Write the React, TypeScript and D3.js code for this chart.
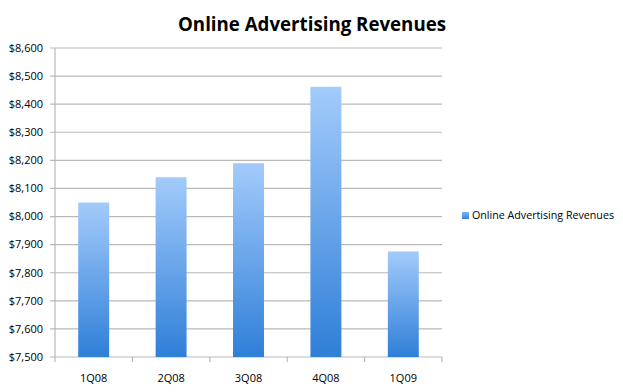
import React from "react";
import * as d3 from "d3";

const categories = ["1Q08", "2Q08", "3Q08", "4Q08", "1Q09"];
const revenues = [8050, 8140, 8190, 8462, 7876];
const yTicks = [7500, 7600, 7700, 7800, 7900, 8000, 8100, 8200, 8300, 8400, 8500, 8600];
const seriesName = "Online Advertising Revenues";
const title = "Online Advertising Revenues";

export default function App() {
  const W = 623, H = 392;
  const left = 55, right = 442, top = 48, bottom = 357;
  const x = d3.scaleBand<string>().domain(categories).range([left, right]).paddingInner(0.6).paddingOuter(0.3);
  const y = d3.scaleLinear().domain([7500, 8600]).range([bottom, top]);
  const font = "'Open Sans', 'Noto Sans', sans-serif";
  const fmt = d3.format("$,");
  const boundaries = d3.range(categories.length + 1).map((i) => left + i * x.step());

  return (
    <svg width={W} height={H} style={{ position: "absolute", left: 0, top: 0 }}>
      <defs>
        <linearGradient id="barGrad" x1="0" y1="0" x2="0" y2="1">
          <stop offset="0%" stopColor="#a3cbfb" />
          <stop offset="100%" stopColor="#2f7fd8" />
        </linearGradient>
        <linearGradient id="legGrad" x1="0" y1="0" x2="0" y2="1">
          <stop offset="0%" stopColor="#7fb2f2" />
          <stop offset="100%" stopColor="#3a86dc" />
        </linearGradient>
      </defs>
      <rect x={0} y={0} width={W} height={H} fill="#fff" />
      <text x={312} y={31} textAnchor="middle" fontFamily={font} fontWeight="bold" fontSize={20}
        textLength={268} lengthAdjust="spacingAndGlyphs" fill="#000">{title}</text>
      {yTicks.map((t) => (
        <g key={t}>
          <line x1={left - 5} x2={right} y1={y(t)} y2={y(t)} stroke="#b9b9b9" strokeWidth={1.2} />
          <text x={43} y={y(t)} dy="0.35em" textAnchor="end" fontFamily={font} fontSize={11} fill="#000">{fmt(t)}</text>
        </g>
      ))}
      <line x1={left} x2={left} y1={top} y2={bottom} stroke="#b9b9b9" strokeWidth={1.2} />
      {boundaries.map((bx, i) => (
        <line key={i} x1={bx} x2={bx} y1={bottom} y2={bottom + 5} stroke="#b9b9b9" strokeWidth={1.2} />
      ))}
      {categories.map((c, i) => (
        <g key={c}>
          <rect x={x(c)} y={y(revenues[i])} width={x.bandwidth()} height={bottom - y(revenues[i])} fill="url(#barGrad)" />
          <text x={(x(c) as number) + x.bandwidth() / 2} y={378} dy="0.35em" textAnchor="middle" fontFamily={font} fontSize={11} fill="#000">{c}</text>
        </g>
      ))}
      <rect x={462} y={212} width={7} height={7} fill="url(#legGrad)" />
      <text x={472} y={215.5} dy="0.35em" fontFamily={font} fontSize={11} textLength={142} lengthAdjust="spacingAndGlyphs" fill="#000">{seriesName}</text>
    </svg>
  );
}
